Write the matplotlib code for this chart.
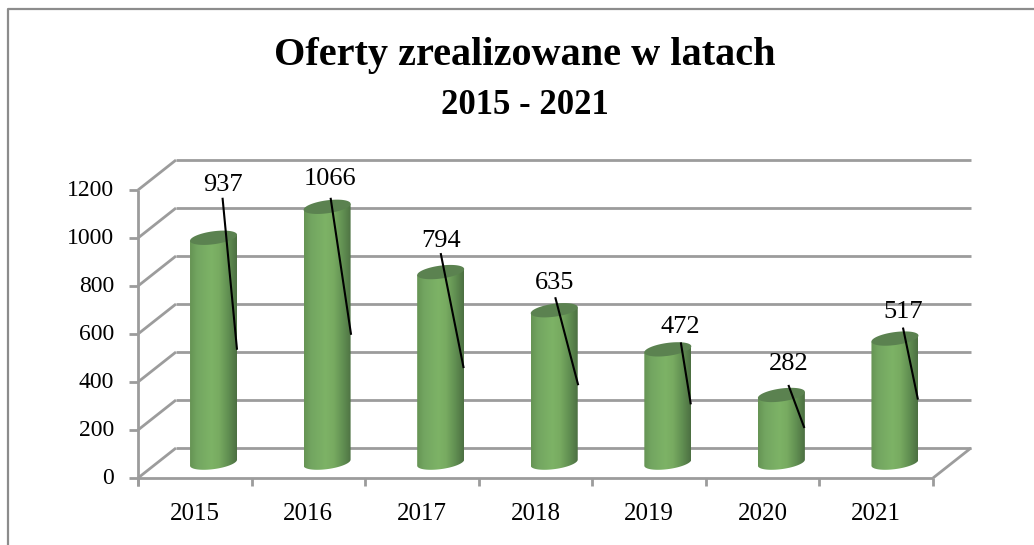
import matplotlib
matplotlib.use("Agg")
import matplotlib.pyplot as plt
import numpy as np
from matplotlib.patches import Polygon

years = ['2015', '2016', '2017', '2018', '2019', '2020', '2021']
offers = [937, 1066, 794, 635, 472, 282, 517]
y_ticks = [0, 200, 400, 600, 800, 1000, 1200]

W, H = 1034, 545
LEFT, RIGHT, BOTTOM, TOP = 138, 933, 478, 190

# label and leader line placement in pixels, relative to the top of each cylinder
label_off = [(9.5, -53), (3, -28), (0, -31), (0, -27), (13, -22), (7, -31), (8, -27)]
line_start = [(9, -40), (3.5, -9), (0, -19), (1, -13), (13, -7), (7, -10), (8, -11)]
line_end = [(23.5, 112), (24, 128), (23, 96), (24, 75), (23, 55), (23, 33), (23, 61)]

plt.rcParams['font.family'] = ['Liberation Serif', 'DejaVu Serif']

fig = plt.figure(figsize=(W / 100, H / 100), dpi=100)
ax = fig.add_axes([LEFT / W, 1 - BOTTOM / H, (RIGHT - LEFT) / W, (BOTTOM - TOP) / H])
ax.set_xlim(0, len(years))
ax.set_ylim(0, 1200)
ax.axis('off')

# pixels to data units
sx = len(years) / (RIGHT - LEFT)
sy = 1200 / (BOTTOM - TOP)
GREY = '#9c9c9c'
DEPTH_X, DEPTH_Y = 38 * sx, 30 * sy
LW = 2.0


def line(xs, ys, color=GREY, lw=LW, z=1):
    ax.plot(xs, ys, color=color, lw=lw, zorder=z, clip_on=False, solid_capstyle='butt')


# back wall and floor
for t in y_ticks:
    line([0, DEPTH_X], [t, t + DEPTH_Y])
    line([DEPTH_X, len(years) + DEPTH_X], [t + DEPTH_Y, t + DEPTH_Y])
    line([-9 * sx, 0], [t, t])
line([0, len(years)], [0, 0])
line([0, 0], [-8 * sy, 1200])
line([len(years), len(years) + DEPTH_X], [0, DEPTH_Y])
for i in range(len(years) + 1):
    line([i, i], [-8 * sy, 0])

# cylinders
shade = np.array([[0.40, 0.58, 0.33], [0.45, 0.65, 0.38], [0.49, 0.70, 0.40],
                  [0.47, 0.67, 0.38], [0.38, 0.56, 0.32], [0.30, 0.44, 0.26]])
pos = np.linspace(0, 1, 64)
grad = np.stack([np.interp(pos, [0, .15, .45, .62, .82, 1], shade[:, c]) for c in range(3)], axis=1)[None, :, :]

half_w = 23.5 * sx
half_h = 6.5 * sy
tilt = 3 * sy
base = 64.0  # foot of the cylinders above the front axis, in data units
t = np.linspace(0, 2 * np.pi, 80)

for i, v in enumerate(offers):
    cx = i + 0.665
    top = v + base
    ex = cx + half_w * np.cos(t)
    ey = half_h * np.sin(t) + tilt * np.cos(t)
    lower = t[(t >= np.pi) & (t <= 2 * np.pi)]
    bx = cx + half_w * np.cos(lower)
    by = base + half_h * np.sin(lower) + tilt * np.cos(lower)
    body = np.vstack([np.column_stack([bx, by]), [[cx + half_w, top + tilt], [cx - half_w, top - tilt]]])
    im = ax.imshow(grad, extent=[cx - half_w, cx + half_w, 0, 1200], aspect='auto', zorder=3, interpolation='bilinear')
    im.set_clip_path(Polygon(body, closed=True, transform=ax.transData))
    ax.add_patch(Polygon(np.column_stack([ex, top + ey]), closed=True, fc='#5b8250', ec='none', zorder=4))

    lx, ly = label_off[i]
    ax.text(cx + lx * sx, top - ly * sy, str(v), ha='center', va='center', fontsize=19, color='black', zorder=6)
    sx0, sy0 = line_start[i]
    sx1, sy1 = line_end[i]
    line([cx + sx0 * sx, cx + sx1 * sx], [top - sy0 * sy, top - sy1 * sy], color='black', lw=1.5, z=5)

ax.set_xlim(0, len(years))
ax.set_ylim(0, 1200)

# tick labels
for t_val in y_ticks:
    ax.text(-24 * sx, t_val, str(t_val), ha='right', va='center', fontsize=17, color='black')
for i, y in enumerate(years):
    ax.text(i + 0.5, -36 * sy, y, ha='center', va='center', fontsize=18, color='black')

# title and outer frame
fig.text(525 / W, 1 - 55 / H, 'Oferty zrealizowane w latach', ha='center', va='center',
         fontsize=29, fontweight='bold')
fig.text(525 / W, 1 - 105 / H, '2015 - 2021', ha='center', va='center', fontsize=25, fontweight='bold')
fig.add_artist(plt.Line2D([8 / W, 8 / W, 1], [0, 1 - 8.5 / H, 1 - 8.5 / H], color='#8c8c8c', lw=1.6))

fig.savefig('out.png', dpi=100)
